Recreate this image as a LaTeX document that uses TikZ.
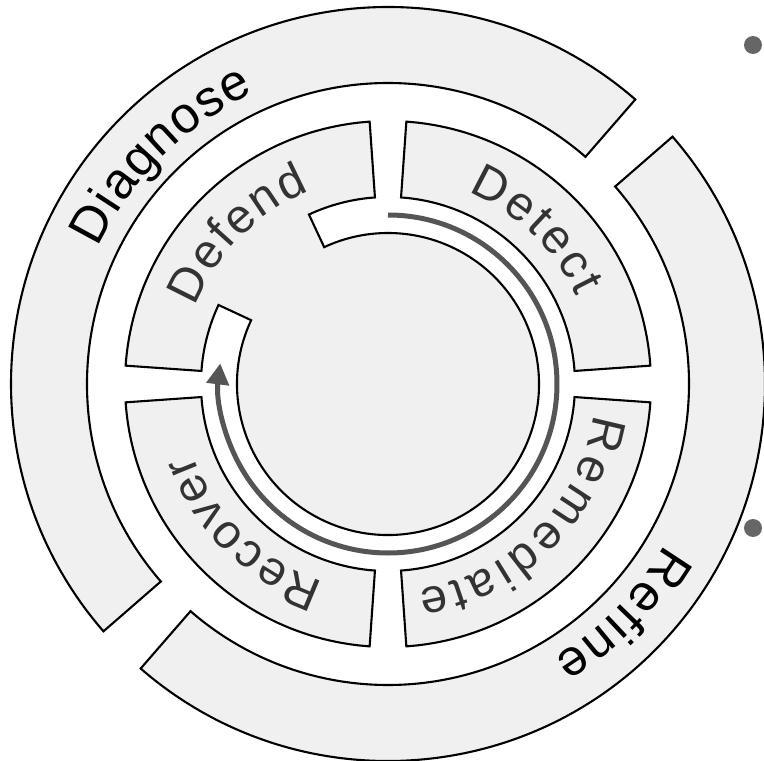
\documentclass[tikz,border=0pt]{standalone}
\usepackage{fontspec}
\setmainfont{Liberation Sans}
\usepackage{tikz}
\usetikzlibrary{decorations.text,arrows.meta}

\definecolor{ringfill}{HTML}{F0F0F0}
\definecolor{labeldark}{HTML}{333333}
\definecolor{flowgray}{HTML}{555555}
\definecolor{dotgray}{HTML}{666666}

\newcommand{\outerfont}{\fontsize{51}{51}\selectfont}
\newcommand{\innerfont}{\fontsize{48}{48}\selectfont}
% annular sector: start angle, end angle, inner radius, outer radius
\newcommand{\ringseg}[4]{(#1:#4pt) arc[start angle=#1, end angle=#2, radius=#4pt]
  -- (#2:#3pt) arc[start angle=#2, end angle=#1, radius=#3pt] -- cycle}

\begin{document}
\begin{tikzpicture}
    \tikzstyle{ringpart}=[draw=black, fill=ringfill, line width=2.1pt]
    \tikzstyle{flow}=[draw=flowgray, line width=5pt, -{Triangle[length=21pt, width=22pt]}]
    \tikzstyle{outerlabel}=[decorate, decoration={text along path, text align=fit to path, text color=black}]
    \tikzstyle{innerlabel}=[decorate, decoration={text along path, text align=fit to path, text color=labeldark}]
    \tikzstyle{bullet}=[fill=dotgray]

    \useasboundingbox (-388pt,-377pt) rectangle (376pt,384pt);

    % outer ring
    \draw[ringpart] \ringseg{49}{221}{301}{377};
    \draw[ringpart] \ringseg{-131}{41}{301}{377};

    % middle ring
    \draw[ringpart] \ringseg{4}{86}{187}{263};
    \draw[ringpart] \ringseg{-86}{-4}{187}{263};
    \draw[ringpart] \ringseg{184}{266}{187}{263};
    % defend piece joined to the centre disc
    \draw[ringpart] (94:263pt) arc[start angle=94, end angle=176, radius=263pt]
        -- (176:187pt) arc[start angle=176, end angle=155, radius=187pt]
        -- (155:151pt) arc[start angle=155, end angle=475, radius=151pt]
        -- (115:187pt) arc[start angle=115, end angle=94, radius=187pt] -- cycle;

    % cycle arrow
    \draw[flow] (90:169pt) arc[start angle=90, end angle=-187, radius=169pt];

    % labels
    \path[outerlabel, decoration={text={|\outerfont|Diagnose}}]
        (154.8:320pt) arc[start angle=154.8, end angle=114.7, radius=320pt];
    \path[outerlabel, decoration={text={|\outerfont|Refine}}]
        (-30.1:320pt) arc[start angle=-30.1, end angle=-58.9, radius=320pt];
    \path[innerlabel, decoration={text={|\innerfont|Defend}}]
        (158.1:208pt) arc[start angle=158.1, end angle=112.2, radius=208pt];
    \path[innerlabel, decoration={text={|\innerfont|Detect}}]
        (67.4:208pt) arc[start angle=67.4, end angle=25, radius=208pt];
    \path[innerlabel, decoration={text={|\innerfont|Remediate}}]
        (-8.5:208pt) arc[start angle=-8.5, end angle=-81.7, radius=208pt];
    \path[innerlabel, decoration={text={|\innerfont|Recover}}]
        (252.1:208pt) arc[start angle=252.1, end angle=199.8, radius=208pt];

    % stray bullets
    \fill[bullet] (365pt,339pt) circle[radius=9pt];
    \fill[bullet] (365pt,-144pt) circle[radius=9pt];
\end{tikzpicture}
\end{document}
